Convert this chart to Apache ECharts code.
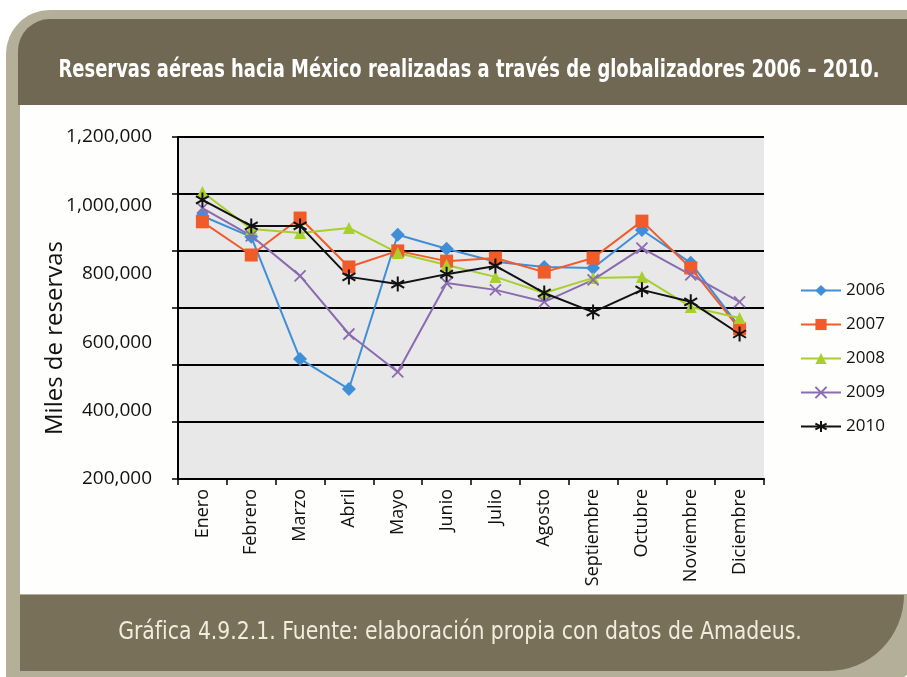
<!DOCTYPE html>
<html lang="es">
<head>
<meta charset="UTF-8">
<title>Reservas aéreas hacia México</title>
<script src="https://cdn.jsdelivr.net/npm/echarts@6/dist/echarts.min.js"></script>
<style>
  html, body { margin: 0; padding: 0; background: #ffffff; }
  #main { width: 907px; height: 677px; }
</style>
</head>
<body>
<div id="main"></div>
<script>
// categorias y valores (miles de reservas)
var meses = ['Enero', 'Febrero', 'Marzo', 'Abril', 'Mayo', 'Junio', 'Julio',
             'Agosto', 'Septiembre', 'Octubre', 'Noviembre', 'Diciembre'];
var anios = ['2006', '2007', '2008', '2009', '2010'];

var datos2006 = [969000, 908000, 551000, 463000, 914000, 873000, 835000, 820000, 817000, 928000, 832000, 644000];
var datos2007 = [952000, 855000, 963000, 820000, 867000, 837000, 846000, 805000, 846000, 954000, 817000, 639000];
var datos2008 = [1039000, 931000, 919000, 934000, 861000, 826000, 791000, 744000, 788000, 791000, 703000, 671000];
var datos2009 = [992000, 911000, 794000, 624000, 513000, 773000, 753000, 718000, 782000, 875000, 797000, 718000];
var datos2010 = [1016000, 940000, 940000, 791000, 770000, 799000, 823000, 744000, 688000, 753000, 718000, 624000];

var ticksY = [200000, 400000, 600000, 800000, 1000000, 1200000];

var fuente = '"Open Sans", "Noto Sans", sans-serif';
var fuenteEstrecha = '"DejaVu Sans Condensed", "Liberation Sans", sans-serif';

var myChart = echarts.init(document.getElementById('main'));

function serie(nombre, datos, color, simbolo, tam, borde) {
    return {
        name: nombre,
        type: 'line',
        data: datos,
        symbol: simbolo,
        symbolSize: tam,
        symbolKeepAspect: true,
        yAxisIndex: 0,
        lineStyle: { color: color, width: 2 },
        itemStyle: {
            color: color,
            borderColor: color,
            borderWidth: borde
        },
        emphasis: { disabled: true }
    };
}

var option = {
    animation: false,
    backgroundColor: '#ffffff',
    graphic: [
        // marco
        { type: 'rect', z: -20, shape: { x: 6, y: 10, width: 930, height: 700, r: [44, 0, 110, 0] },
          style: { fill: '#b3af98' } },
        { type: 'rect', z: -19, shape: { x: 18, y: 19, width: 900, height: 86, r: [32, 0, 0, 0] },
          style: { fill: '#706852' } },
        { type: 'rect', z: -19, shape: { x: 20, y: 105, width: 900, height: 489 },
          style: { fill: '#fefefc' } },
        { type: 'rect', z: -19, shape: { x: 20, y: 595, width: 884, height: 76, r: [0, 0, 76, 0] },
          style: { fill: '#787059' } },
        // textos
        { type: 'text', z: 10, x: 469, y: 71, scaleX: 0.83,
          style: { text: 'Reservas aéreas hacia México realizadas a través de globalizadores 2006 – 2010.',
                   fill: '#ffffff', font: 'bold 24px ' + fuenteEstrecha,
                   textAlign: 'center', textVerticalAlign: 'middle' } },
        { type: 'text', z: 10, x: 460, y: 633, scaleX: 0.945,
          style: { text: 'Gráfica 4.9.2.1. Fuente: elaboración propia con datos de Amadeus.',
                   fill: '#f1ecdc', font: '24px ' + fuenteEstrecha,
                   textAlign: 'center', textVerticalAlign: 'middle' } },
        { type: 'text', z: 10, x: 55, y: 338, rotation: Math.PI / 2,
          style: { text: 'Miles de reservas', fill: '#111', font: '24px ' + fuente,
                   textAlign: 'center', textVerticalAlign: 'middle' } }
    ],
    grid: {
        left: 178,
        top: 137,
        right: 143,
        bottom: 198,
        show: true,
        backgroundColor: '#e8e8e8',
        borderWidth: 0
    },
    legend: {
        orient: 'vertical',
        left: 795,
        top: 277,
        data: anios,
        itemWidth: 40,
        itemHeight: 14,
        itemGap: 17,
        textStyle: { fontFamily: fuente, fontSize: 17, color: '#111' }
    },
    xAxis: {
        type: 'category',
        data: meses,
        axisLine: { lineStyle: { color: '#000', width: 2 } },
        axisTick: { show: true, length: 6, lineStyle: { color: '#000', width: 1.5 } },
        axisLabel: {
            rotate: 90,
            margin: 10,
            color: '#111',
            fontFamily: fuente,
            fontSize: 18
        },
        splitLine: { show: false }
    },
    yAxis: [
        {
            type: 'value',
            min: 200000,
            max: 1200000,
            interval: 200000,
            axisLine: { show: false },
            axisTick: { show: false },
            splitLine: { show: false },
            axisLabel: {
                margin: 26,
                color: '#111',
                fontFamily: fuente,
                fontSize: 19,
                formatter: function (v) { return v.toLocaleString('en-US'); }
            }
        },
        {
            // lineas de division del area de trazado
            type: 'value',
            min: 0,
            max: 6,
            interval: 1,
            position: 'left',
            axisLine: { show: true, lineStyle: { color: '#000', width: 2 } },
            axisTick: { show: true, length: 6, lineStyle: { color: '#000', width: 1.5 } },
            axisLabel: { show: false },
            splitLine: { show: true, lineStyle: { color: '#000', width: 2 } }
        }
    ],
    series: [
        serie('2006', datos2006, '#3e8ed8', 'diamond', 14, 0),
        serie('2007', datos2007, '#f15a29', 'rect', 13, 0),
        serie('2008', datos2008, '#a8cf2b', 'triangle', 12, 0),
        serie('2009', datos2009, '#8a6bb0', 'path://M0,0L10,10M10,0L0,10', 11, 1.8),
        serie('2010', datos2010, '#111111', 'path://M5,0L5,10M0.7,2.5L9.3,7.5M0.7,7.5L9.3,2.5', 15, 2)
    ]
};

myChart.setOption(option);
</script>
</body>
</html>
